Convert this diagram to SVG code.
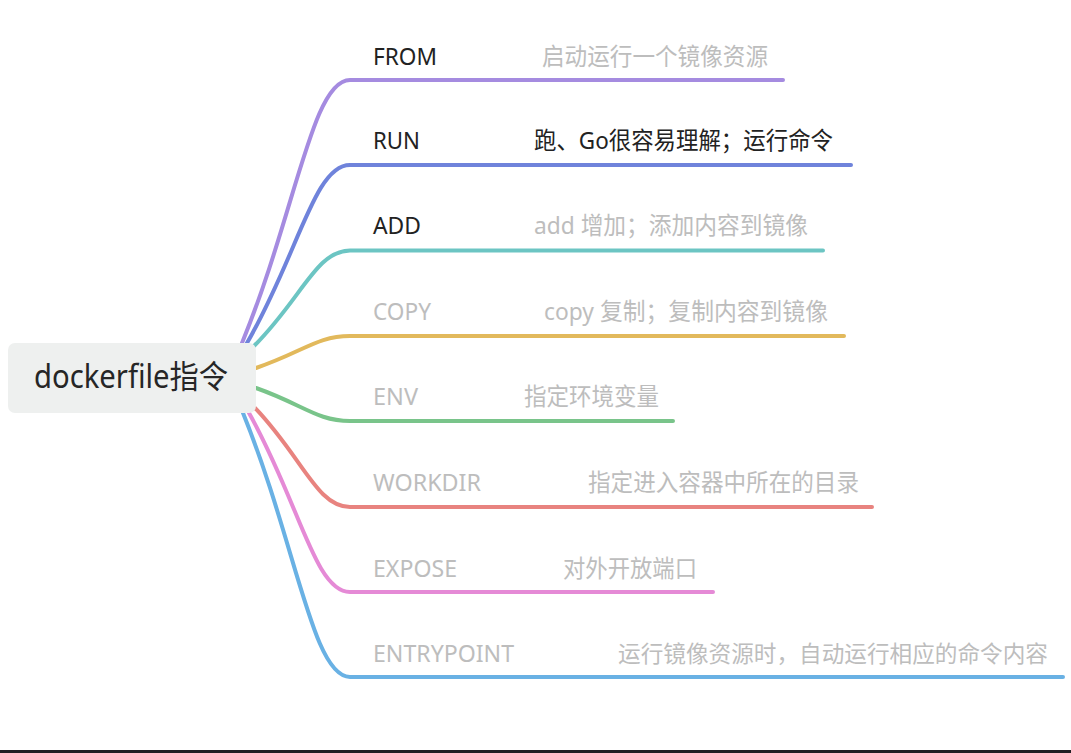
<svg xmlns="http://www.w3.org/2000/svg" width="1071" height="753" viewBox="0 0 1071 753">
<style>
  .c { fill: none; stroke-width: 4; stroke-linecap: round; stroke-linejoin: round; }
  .t { font-family: "Noto Sans", "Noto Sans CJK SC", sans-serif; font-size: 24px; }
  .dark { fill: #222222; }
  .grey { fill: #bdbdbd; }
  .root { font-family: "Noto Sans", "Noto Sans CJK SC", sans-serif; font-size: 32px; fill: #262626; }
</style>
<rect x="0" y="0" width="1071" height="753" fill="#ffffff"/>
<g id="connectors">
  <path class="c" stroke="#a58be0" d="M242,343 C296,211.5 312,80 350,80 H783"/>
  <path class="c" stroke="#6f83db" d="M247,343 C298.5,254 314,165 350,165 H851"/>
  <path class="c" stroke="#6cc5c3" d="M254,346 C302,298 316.4,250.5 350,250.5 H823"/>
  <path class="c" stroke="#e2b95c" d="M256,368 C303,352 317,336 350,336 H844"/>
  <path class="c" stroke="#79c48a" d="M256,388 C303,404.5 317,421 350,421 H673"/>
  <path class="c" stroke="#e8837f" d="M255,408 C302.5,457.5 316.8,507 350,507 H872"/>
  <path class="c" stroke="#e58ad6" d="M249,413 C299.5,502.5 314.6,592 350,592 H713"/>
  <path class="c" stroke="#69b1e4" d="M243,413 C296.5,545 312.5,677 350,677 H1063"/>
</g>
<g id="root">
  <rect x="8" y="343" width="248" height="70" rx="7" fill="#eef0ef"/>
  <text class="root" x="34" y="388" textLength="194" lengthAdjust="spacingAndGlyphs">dockerfile指令</text>
</g>
<g id="from">
  <text class="t dark" x="373" y="65" textLength="64" lengthAdjust="spacingAndGlyphs">FROM</text>
  <text class="t grey" x="542" y="65" textLength="226" lengthAdjust="spacingAndGlyphs">启动运行一个镜像资源</text>
</g>
<g id="run">
  <text class="t dark" x="373" y="149" textLength="47" lengthAdjust="spacingAndGlyphs">RUN</text>
  <text class="t dark" x="534" y="149" textLength="299" lengthAdjust="spacingAndGlyphs">跑、Go很容易理解；运行命令</text>
</g>
<g id="add">
  <text class="t dark" x="373" y="234" textLength="48" lengthAdjust="spacingAndGlyphs">ADD</text>
  <text class="t grey" x="534" y="234" textLength="274" lengthAdjust="spacingAndGlyphs">add 增加；添加内容到镜像</text>
</g>
<g id="copy">
  <text class="t grey" x="373" y="320" textLength="58" lengthAdjust="spacingAndGlyphs">COPY</text>
  <text class="t grey" x="544" y="320" textLength="284" lengthAdjust="spacingAndGlyphs">copy 复制；复制内容到镜像</text>
</g>
<g id="env">
  <text class="t grey" x="373" y="405" textLength="45" lengthAdjust="spacingAndGlyphs">ENV</text>
  <text class="t grey" x="524" y="405" textLength="135" lengthAdjust="spacingAndGlyphs">指定环境变量</text>
</g>
<g id="workdir">
  <text class="t grey" x="373" y="491" textLength="108" lengthAdjust="spacingAndGlyphs">WORKDIR</text>
  <text class="t grey" x="588" y="491" textLength="271" lengthAdjust="spacingAndGlyphs">指定进入容器中所在的目录</text>
</g>
<g id="expose">
  <text class="t grey" x="373" y="577" textLength="84" lengthAdjust="spacingAndGlyphs">EXPOSE</text>
  <text class="t grey" x="563" y="577" textLength="134" lengthAdjust="spacingAndGlyphs">对外开放端口</text>
</g>
<g id="entrypoint">
  <text class="t grey" x="373" y="662" textLength="141" lengthAdjust="spacingAndGlyphs">ENTRYPOINT</text>
  <text class="t grey" x="618" y="662" style="font-size:22.6px" textLength="430" lengthAdjust="spacingAndGlyphs">运行镜像资源时，自动运行相应的命令内容</text>
</g>
<rect x="0" y="750" width="1071" height="3" fill="#1f2024"/>
</svg>
